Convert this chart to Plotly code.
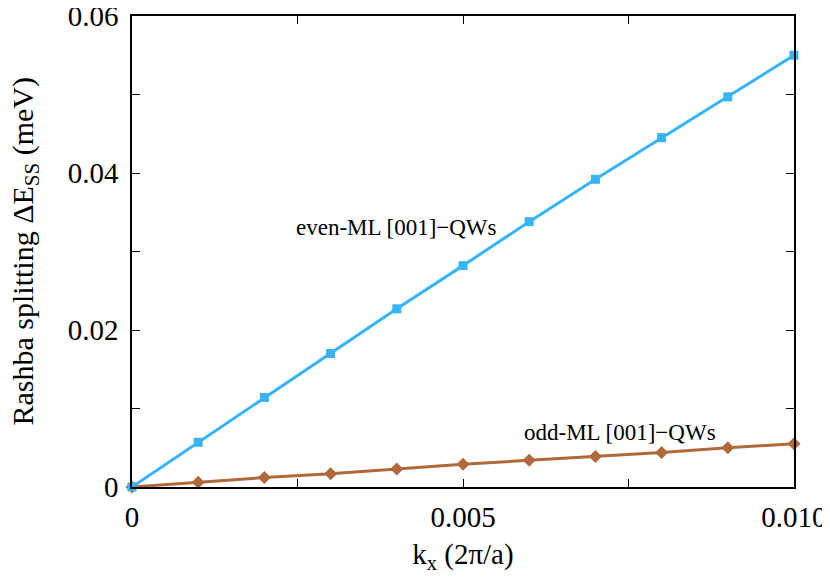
import plotly.graph_objects as go

# data
kx = [0.0, 0.001, 0.002, 0.003, 0.004, 0.005, 0.006, 0.007, 0.008, 0.009, 0.010]
even_ml = [0.0, 0.0057, 0.0114, 0.0170, 0.0227, 0.0282, 0.0338, 0.0392, 0.0445, 0.0497, 0.0550]
odd_ml = [0.0, 0.0006, 0.0012, 0.0017, 0.0023, 0.0029, 0.0034, 0.0039, 0.0044, 0.0050, 0.0055]

x_tickvals = [0, 0.005, 0.010]
x_ticktext = ['0', '0.005', '0.010']
y_tickvals = [0, 0.02, 0.04, 0.06]
y_ticktext = ['0', '0.02', '0.04', '0.06']

blue = '#36b4f4'
brown = '#b1683a'
font = 'Times New Roman, Liberation Serif, serif'

fig = go.Figure()

fig.add_trace(go.Scatter(x=kx, y=odd_ml, mode='lines+markers',
                         line=dict(color=brown, width=3),
                         marker=dict(symbol='diamond', size=10, color=brown),
                         cliponaxis=False, name='odd'))
fig.add_trace(go.Scatter(x=kx, y=even_ml, mode='lines+markers',
                         line=dict(color=blue, width=3),
                         marker=dict(symbol='square', size=9, color=blue),
                         cliponaxis=False, name='even'))

fig.add_annotation(x=0.004, y=0.033, text='even-ML [001]\u2212QWs', showarrow=False,
                   font=dict(family=font, size=23, color='black'))
fig.add_annotation(x=0.00737, y=0.0069, text='odd-ML [001]\u2212QWs', showarrow=False,
                   font=dict(family=font, size=23, color='black'))

# y axis title as a rotated annotation so it can sit further left
fig.add_annotation(xref='paper', yref='paper', x=0, y=0.5, xanchor='center', yanchor='middle',
                   xshift=-108, textangle=-90, showarrow=False,
                   text='Rashba splitting \u0394E<sub>SS</sub> (meV)',
                   font=dict(family=font, size=30, color='black'))

axis_common = dict(showgrid=False, zeroline=False, showline=True, linecolor='black',
                   linewidth=1.5, mirror='allticks', ticks='inside', ticklen=8,
                   tickcolor='black', tickwidth=1.2, automargin=False,
                   ticklabeloverflow='allow',
                   tickfont=dict(family=font, size=29, color='black'))

fig.update_xaxes(range=[0, 0.0100001], tickvals=x_tickvals, ticktext=x_ticktext,
                 ticklabelstandoff=3,
                 minor=dict(tickvals=[0.0025, 0.0075], ticks='inside', ticklen=8,
                            tickcolor='black', tickwidth=1.2),
                 title=dict(text='k<sub>x</sub> (2\u03c0/a)', standoff=12,
                            font=dict(family=font, size=29, color='black')),
                 **axis_common)
fig.update_yaxes(range=[0, 0.0600001], tickvals=y_tickvals, ticktext=y_ticktext,
                 ticklabelstandoff=6,
                 minor=dict(tickvals=[0.01, 0.03, 0.05], ticks='inside', ticklen=8,
                            tickcolor='black', tickwidth=1.2),
                 **axis_common)

# page body adds an 8px offset, so the figure is a bit smaller than the window
fig.update_layout(width=822, height=572, showlegend=False,
                  plot_bgcolor='white', paper_bgcolor='white',
                  margin=dict(l=124, r=36, t=8, b=93))

fig.write_html('out.html')
